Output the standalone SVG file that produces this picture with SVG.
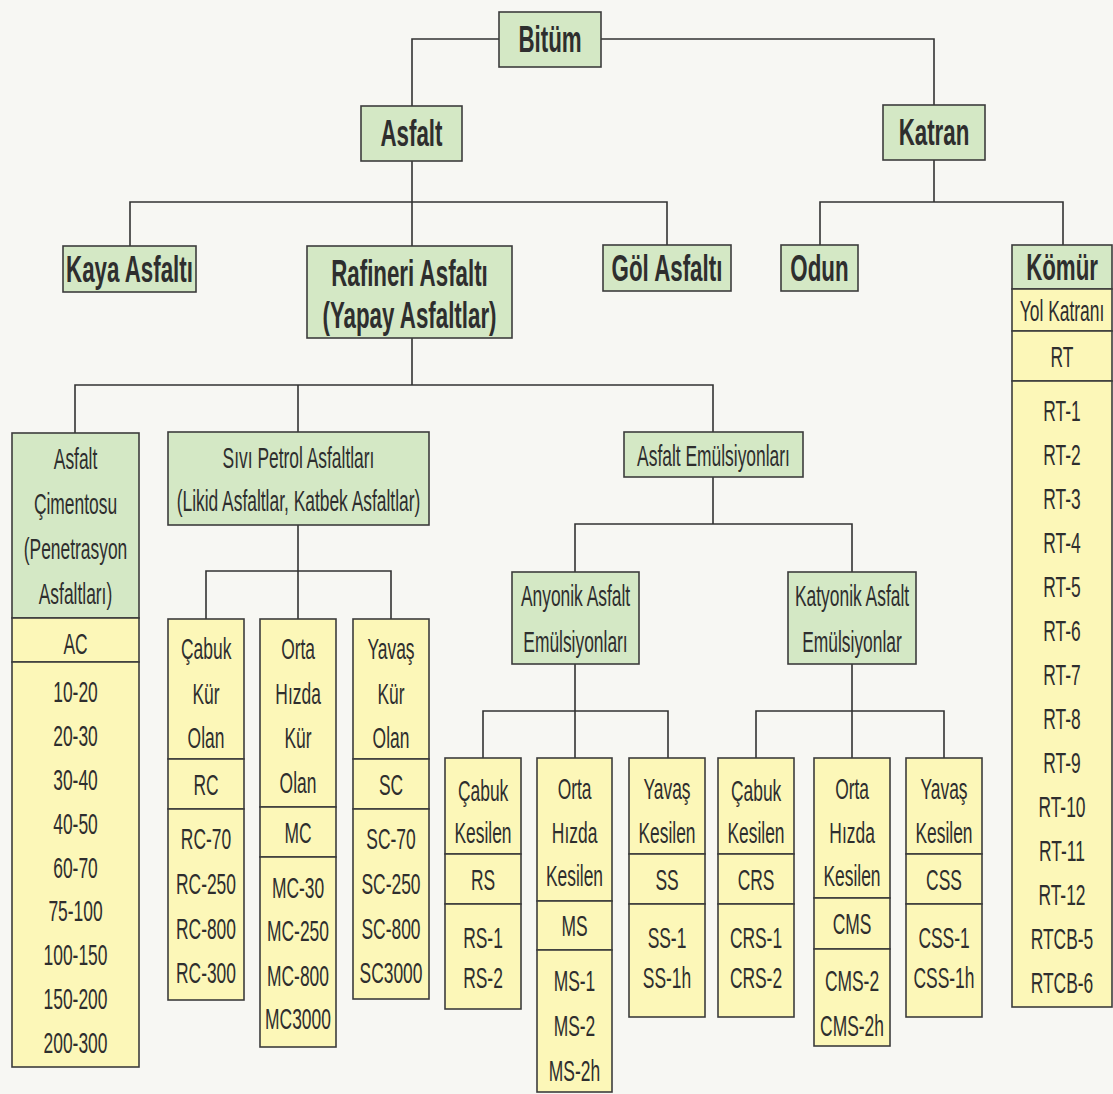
<svg xmlns="http://www.w3.org/2000/svg" width="1113" height="1094" viewBox="0 0 1113 1094">
<style>
.g{fill:#d4e8c5;stroke:#3c3c3c;stroke-width:1.6}
.y{fill:#fcf7b8;stroke:#3c3c3c;stroke-width:1.6}
text{font-family:"Liberation Sans",Arial,sans-serif;fill:#2e2e2e;text-anchor:middle;transform-box:fill-box;transform-origin:center}
.r{font-size:30px;transform:scaleX(0.58)}
.b{font-size:36px;font-weight:bold;transform:scaleX(0.62)}
#connectors path{fill:none;stroke:#333;stroke-width:1.6}
</style>
<rect x="0" y="0" width="1113" height="1094" fill="#f7f7f3"/>
<g id="connectors">
<path d="M499 39H412V106"/>
<path d="M601 39H934V105"/>
<path d="M412 161V246M130 246V202H667V245"/>
<path d="M934 160V202M820 245V202H1063V245"/>
<path d="M412 338V385M75 433V385H713V432M298 385V432"/>
<path d="M298 525V619M206 619V571H391V619"/>
<path d="M713 477V524M575 572V524H852V572"/>
<path d="M575 664V758M483 758V711H668V758"/>
<path d="M852 664V758M756 758V711H944V758"/>
</g>
<g id="bitum"><rect class="g" x="499" y="12" width="102" height="55"/><text class="b" x="550" y="52">Bitüm</text></g>
<g id="asfalt"><rect class="g" x="361" y="106" width="101" height="55"/><text class="b" x="411.5" y="146">Asfalt</text></g>
<g id="katran"><rect class="g" x="883" y="105" width="102" height="55"/><text class="b" x="934" y="145">Katran</text></g>
<g id="kaya"><rect class="g" x="63" y="246" width="133" height="46"/><text class="b" x="129.5" y="282">Kaya Asfaltı</text></g>
<g id="rafineri"><rect class="g" x="307" y="246" width="205" height="92"/><text class="b" x="409.5" y="286">Rafineri Asfaltı</text><text class="b" x="409.5" y="328">(Yapay Asfaltlar)</text></g>
<g id="gol"><rect class="g" x="603" y="245" width="128" height="46"/><text class="b" x="667" y="281">Göl Asfaltı</text></g>
<g id="odun"><rect class="g" x="781" y="245" width="77" height="46"/><text class="b" x="819.5" y="281">Odun</text></g>
<g id="komur">
<rect class="g" x="1012" y="245" width="100" height="44"/>
<rect class="y" x="1012" y="289" width="100" height="42"/>
<rect class="y" x="1012" y="331" width="100" height="50"/>
<rect class="y" x="1012" y="381" width="100" height="626"/>
<text class="b" x="1062" y="280">Kömür</text>
<text class="r" x="1062" y="321">Yol Katranı</text>
<text class="r" x="1062" y="367">RT</text>
<text class="r" x="1062" y="421">RT-1</text>
<text class="r" x="1062" y="465">RT-2</text>
<text class="r" x="1062" y="509">RT-3</text>
<text class="r" x="1062" y="553">RT-4</text>
<text class="r" x="1062" y="597">RT-5</text>
<text class="r" x="1062" y="641">RT-6</text>
<text class="r" x="1062" y="685">RT-7</text>
<text class="r" x="1062" y="729">RT-8</text>
<text class="r" x="1062" y="773">RT-9</text>
<text class="r" x="1062" y="817">RT-10</text>
<text class="r" x="1062" y="861">RT-11</text>
<text class="r" x="1062" y="905">RT-12</text>
<text class="r" x="1062" y="949">RTCB-5</text>
<text class="r" x="1062" y="993">RTCB-6</text>
</g>
<g id="asfalt-cimentosu">
<rect class="g" x="12" y="433" width="127" height="185"/>
<rect class="y" x="12" y="618" width="127" height="44"/>
<rect class="y" x="12" y="662" width="127" height="405"/>
<text class="r" x="75.5" y="469">Asfalt</text>
<text class="r" x="75.5" y="514">Çimentosu</text>
<text class="r" x="75.5" y="559">(Penetrasyon</text>
<text class="r" x="75.5" y="604">Asfaltları)</text>
<text class="r" x="75.5" y="654">AC</text>
<text class="r" x="75.5" y="702">10-20</text>
<text class="r" x="75.5" y="746">20-30</text>
<text class="r" x="75.5" y="790">30-40</text>
<text class="r" x="75.5" y="834">40-50</text>
<text class="r" x="75.5" y="878">60-70</text>
<text class="r" x="75.5" y="921">75-100</text>
<text class="r" x="75.5" y="965">100-150</text>
<text class="r" x="75.5" y="1009">150-200</text>
<text class="r" x="75.5" y="1053">200-300</text>
</g>
<g id="sivi-petrol"><rect class="g" x="168" y="432" width="261" height="93"/><text class="r" x="298.5" y="468">Sıvı Petrol Asfaltları</text><text class="r" x="298.5" y="511">(Likid Asfaltlar, Katbek Asfaltlar)</text></g>
<g id="asfalt-emulsiyonlari"><rect class="g" x="624" y="432" width="179" height="45"/><text class="r" x="713.5" y="466">Asfalt Emülsiyonları</text></g>
<g id="rc">
<rect class="y" x="168" y="619" width="76" height="140"/>
<rect class="y" x="168" y="759" width="76" height="50"/>
<rect class="y" x="168" y="809" width="76" height="191"/>
<text class="r" x="206" y="659">Çabuk</text>
<text class="r" x="206" y="704">Kür</text>
<text class="r" x="206" y="748">Olan</text>
<text class="r" x="206" y="795">RC</text>
<text class="r" x="206" y="849">RC-70</text>
<text class="r" x="206" y="894">RC-250</text>
<text class="r" x="206" y="939">RC-800</text>
<text class="r" x="206" y="983">RC-300</text>
</g>
<g id="mc">
<rect class="y" x="260" y="619" width="76" height="188"/>
<rect class="y" x="260" y="807" width="76" height="50"/>
<rect class="y" x="260" y="857" width="76" height="190"/>
<text class="r" x="298" y="659">Orta</text>
<text class="r" x="298" y="704">Hızda</text>
<text class="r" x="298" y="748">Kür</text>
<text class="r" x="298" y="793">Olan</text>
<text class="r" x="298" y="843">MC</text>
<text class="r" x="298" y="898">MC-30</text>
<text class="r" x="298" y="941">MC-250</text>
<text class="r" x="298" y="986">MC-800</text>
<text class="r" x="298" y="1029">MC3000</text>
</g>
<g id="sc">
<rect class="y" x="353" y="619" width="76" height="140"/>
<rect class="y" x="353" y="759" width="76" height="50"/>
<rect class="y" x="353" y="809" width="76" height="190"/>
<text class="r" x="391" y="659">Yavaş</text>
<text class="r" x="391" y="704">Kür</text>
<text class="r" x="391" y="748">Olan</text>
<text class="r" x="391" y="795">SC</text>
<text class="r" x="391" y="849">SC-70</text>
<text class="r" x="391" y="894">SC-250</text>
<text class="r" x="391" y="939">SC-800</text>
<text class="r" x="391" y="983">SC3000</text>
</g>
<g id="anyonik"><rect class="g" x="512" y="572" width="127" height="92"/><text class="r" x="575.5" y="606">Anyonik Asfalt</text><text class="r" x="575.5" y="652">Emülsiyonları</text></g>
<g id="katyonik"><rect class="g" x="788" y="572" width="128" height="92"/><text class="r" x="852" y="606">Katyonik Asfalt</text><text class="r" x="852" y="652">Emülsiyonlar</text></g>
<g id="rs">
<rect class="y" x="445" y="758" width="76" height="96"/>
<rect class="y" x="445" y="854" width="76" height="50"/>
<rect class="y" x="445" y="904" width="76" height="105"/>
<text class="r" x="483" y="801">Çabuk</text>
<text class="r" x="483" y="843">Kesilen</text>
<text class="r" x="483" y="890">RS</text>
<text class="r" x="483" y="948">RS-1</text>
<text class="r" x="483" y="988">RS-2</text>
</g>
<g id="ms">
<rect class="y" x="537" y="758" width="75" height="143"/>
<rect class="y" x="537" y="901" width="75" height="49"/>
<rect class="y" x="537" y="950" width="75" height="142"/>
<text class="r" x="574.5" y="799">Orta</text>
<text class="r" x="574.5" y="843">Hızda</text>
<text class="r" x="574.5" y="886">Kesilen</text>
<text class="r" x="574.5" y="936">MS</text>
<text class="r" x="574.5" y="991">MS-1</text>
<text class="r" x="574.5" y="1036">MS-2</text>
<text class="r" x="574.5" y="1081">MS-2h</text>
</g>
<g id="ss">
<rect class="y" x="629" y="758" width="76" height="96"/>
<rect class="y" x="629" y="854" width="76" height="50"/>
<rect class="y" x="629" y="904" width="76" height="113"/>
<text class="r" x="667" y="799">Yavaş</text>
<text class="r" x="667" y="843">Kesilen</text>
<text class="r" x="667" y="890">SS</text>
<text class="r" x="667" y="948">SS-1</text>
<text class="r" x="667" y="988">SS-1h</text>
</g>
<g id="crs">
<rect class="y" x="718" y="758" width="76" height="96"/>
<rect class="y" x="718" y="854" width="76" height="50"/>
<rect class="y" x="718" y="904" width="76" height="113"/>
<text class="r" x="756" y="801">Çabuk</text>
<text class="r" x="756" y="843">Kesilen</text>
<text class="r" x="756" y="890">CRS</text>
<text class="r" x="756" y="948">CRS-1</text>
<text class="r" x="756" y="988">CRS-2</text>
</g>
<g id="cms">
<rect class="y" x="814" y="758" width="76" height="140"/>
<rect class="y" x="814" y="898" width="76" height="51"/>
<rect class="y" x="814" y="949" width="76" height="97"/>
<text class="r" x="852" y="799">Orta</text>
<text class="r" x="852" y="843">Hızda</text>
<text class="r" x="852" y="886">Kesilen</text>
<text class="r" x="852" y="934">CMS</text>
<text class="r" x="852" y="991">CMS-2</text>
<text class="r" x="852" y="1036">CMS-2h</text>
</g>
<g id="css">
<rect class="y" x="906" y="758" width="76" height="96"/>
<rect class="y" x="906" y="854" width="76" height="50"/>
<rect class="y" x="906" y="904" width="76" height="113"/>
<text class="r" x="944" y="799">Yavaş</text>
<text class="r" x="944" y="843">Kesilen</text>
<text class="r" x="944" y="890">CSS</text>
<text class="r" x="944" y="948">CSS-1</text>
<text class="r" x="944" y="988">CSS-1h</text>
</g>
</svg>
